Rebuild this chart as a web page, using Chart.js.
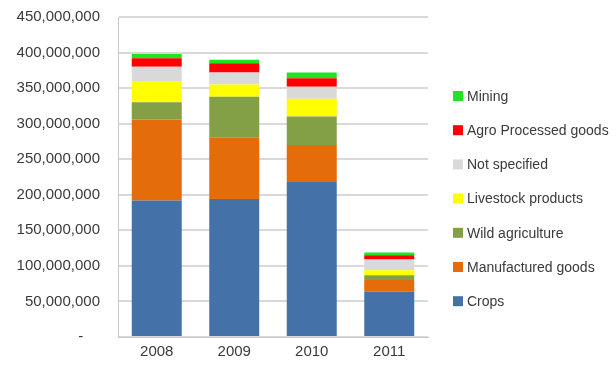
<!DOCTYPE html>
<html>
<head>
<meta charset="utf-8">
<script src="https://cdn.jsdelivr.net/npm/chart.js@4.4.1/dist/chart.umd.min.js"></script>
<style>
  html, body { margin: 0; padding: 0; background: #fff; }
  #wrap { width: 616px; height: 377px; }
</style>
</head>
<body>
<div id="wrap"><canvas id="myChart" width="616" height="377"></canvas></div>
<script>
const years = ['2008', '2009', '2010', '2011']

// values in millions
const crops = [192, 194, 219, 64]
const manufactured = [114, 87, 51, 16]
const wildAgri = [24, 57, 40, 7]
const livestock = [29, 17, 25, 7]
const notSpecified = [21, 17, 17, 15]
const agroProcessed = [12, 13, 12, 6]
const mining = [6, 5, 8, 4]

const yTicks = [0, 50, 100, 150, 200, 250, 300, 350, 400, 450]

const M = 1000000
const toUnits = arr => arr.map(v => v * M)

const series = [
  { label: 'Crops', data: crops, color: '#4472a8' },
  { label: 'Manufactured goods', data: manufactured, color: '#e46c0a' },
  { label: 'Wild agriculture', data: wildAgri, color: '#84a047' },
  { label: 'Livestock products', data: livestock, color: '#ffff00' },
  { label: 'Not specified', data: notSpecified, color: '#d9d9d9' },
  { label: 'Agro Processed goods', data: agroProcessed, color: '#ff0000' },
  { label: 'Mining', data: mining, color: '#1ee61e' }
]

const fontFam = '"Liberation Sans", Arial, sans-serif'
const textColor = '#3a3a3a'

// legend drawn by hand so it sits where Excel put it
const sideLegend = {
  id: 'sideLegend',
  afterDraw(chart) {
    const c = chart.ctx
    const ds = chart.data.datasets
    c.save()
    c.font = '14px ' + fontFam
    c.textBaseline = 'middle'
    const x0 = 453
    const yTop = 96
    const step = 34.2
    for (let i = 0; i < ds.length; i++) {
      const d = ds[ds.length - 1 - i]
      const y = yTop + i * step
      c.fillStyle = d.backgroundColor
      c.fillRect(x0, y - 5, 10, 10)
      c.fillStyle = textColor
      c.fillText(d.label, x0 + 14, y + 1)
    }
    c.restore()
  }
}

const ctx = document.getElementById('myChart')

new Chart(ctx, {
  type: 'bar',
  data: {
    labels: years,
    datasets: series.map(s => ({
      label: s.label,
      data: toUnits(s.data),
      backgroundColor: s.color,
      borderWidth: 0,
      categoryPercentage: 1,
      barPercentage: 0.645
    }))
  },
  options: {
    responsive: false,
    animation: false,
    layout: {
      padding: { left: 0, right: 188, top: 17, bottom: 10 }
    },
    plugins: {
      legend: { display: false },
      tooltip: { enabled: false }
    },
    scales: {
      x: {
        stacked: true,
        grid: { display: false, drawTicks: false },
        border: { display: true, color: '#c8c8c8', width: 1 },
        ticks: {
          color: textColor,
          font: { family: fontFam, size: 15 },
          padding: 6
        }
      },
      y: {
        stacked: true,
        min: 0,
        max: yTicks[yTicks.length - 1] * M,
        afterBuildTicks: axis => {
          axis.ticks = yTicks.map(v => ({ value: v * M }))
        },
        grid: {
          color: '#d9d9d9',
          lineWidth: 2,
          drawTicks: false
        },
        border: { display: true, color: '#c8c8c8', width: 1 },
        ticks: {
          color: textColor,
          font: { family: fontFam, size: 15 },
          padding: 18,
          // accounting style: zero shown as a dash, set in from the edge
          callback: v => v === 0 ? '-\u2007\u2007' : v.toLocaleString('en-US')
        },
        afterFit: axis => {
          axis.width = 118
          axis.paddingTop = 0
          axis.paddingBottom = 0
        }
      }
    }
  },
  plugins: [sideLegend]
})
</script>
</body>
</html>
